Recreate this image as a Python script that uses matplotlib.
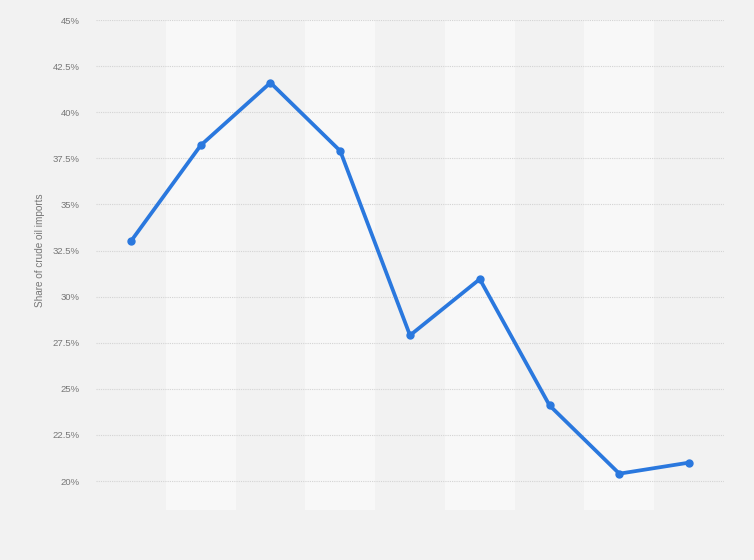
import numpy as np
import matplotlib
matplotlib.use("Agg")
import matplotlib.pyplot as plt

# ------------------------------------------------------------
# Data (categories have no visible labels)
# ------------------------------------------------------------
categories = ["1", "2", "3", "4", "5", "6", "7", "8", "9"]
share_values = [33.0, 38.2, 41.6, 37.9, 27.9, 30.95, 24.1, 20.4, 21.0]
y_ticks = [20, 22.5, 25, 27.5, 30, 32.5, 35, 37.5, 40, 42.5, 45]
y_tick_labels = ["20%", "22.5%", "25%", "27.5%", "30%", "32.5%", "35%", "37.5%", "40%", "42.5%", "45%"]

# ------------------------------------------------------------
# Plot
# ------------------------------------------------------------
plt.rcParams["font.family"] = ["Liberation Sans", "DejaVu Sans"]

bg = "#f2f2f2"
band_light = "#f8f8f8"
line_color = "#2a78de"
text_color = "#777777"

fig = plt.figure(figsize=(7.54, 5.6), dpi=100, facecolor=bg)
ax = fig.add_axes([96 / 754, 1 - 510 / 560, 628 / 754, 490 / 560])
ax.set_facecolor(bg)

x = np.arange(len(categories))
for i in x:
    if i % 2 == 1:
        ax.axvspan(i - 0.5, i + 0.5, color=band_light, zorder=0, lw=0)

ax.plot(x, share_values, color=line_color, lw=2.7, marker="o", ms=5,
        solid_capstyle="round", zorder=3)

ax.set_xlim(-0.5, len(categories) - 0.5)
ax.set_ylim(18.43, 45)
ax.set_yticks(y_ticks)
ax.set_yticklabels(y_tick_labels)
ax.set_xticks([])

ax.grid(axis="y", color="#d4d4d4", linestyle=(0, (1, 1)), lw=0.8, zorder=1)
ax.set_axisbelow(True)
for spine in ax.spines.values():
    spine.set_visible(False)

ax.tick_params(axis="y", length=0, pad=12, labelsize=6.8, labelcolor=text_color)
ax.set_ylabel("Share of crude oil imports", fontsize=7.2, color=text_color)
ax.yaxis.set_label_coords(-0.082, 0.53)

fig.savefig("out.png", dpi=100, facecolor=bg)
